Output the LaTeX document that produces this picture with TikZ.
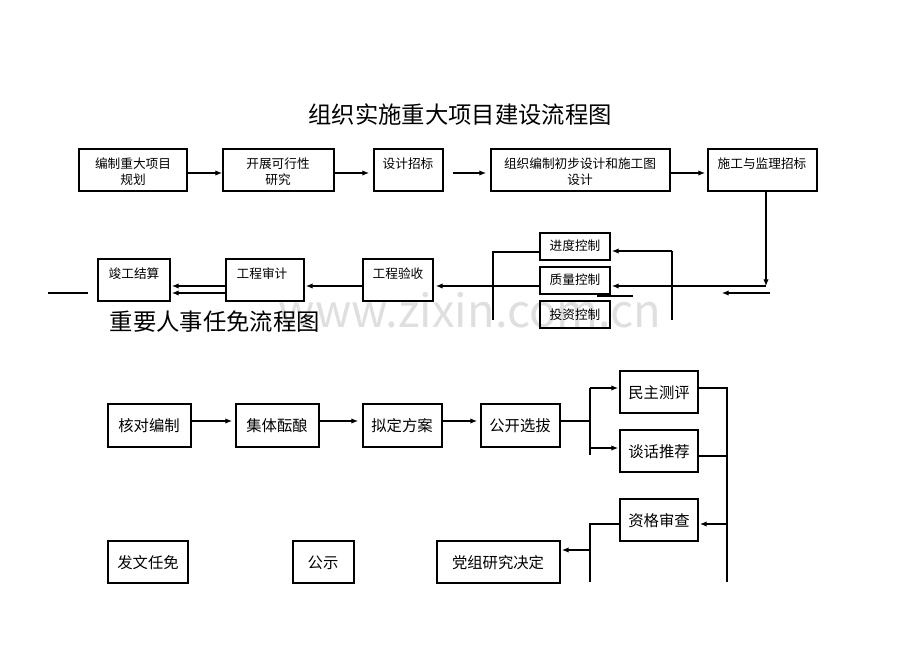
\documentclass[tikz,border=0pt]{standalone}
\usepackage{fontspec}
\setmainfont{Noto Sans CJK SC}
\usetikzlibrary{arrows.meta}
\begin{document}
\begin{tikzpicture}[x=0.75pt,y=-0.75pt,
  bx/.style={draw,line width=0.9pt,inner sep=0pt},
  ar/.style={line width=0.8pt,-{Latex[length=5pt,width=4pt]}},
  ln/.style={line width=0.8pt},
  t1/.style={font=\fontsize{9.5pt}{12pt}\selectfont,align=center},
  t2/.style={font=\fontsize{11.5pt}{14pt}\selectfont}]
\useasboundingbox (0,0) rectangle (920,651);
\node[gray!25,font=\fontsize{34pt}{36pt}\selectfont] (wm) at (470,310) {www.zixin.com.cn};
\node[font=\fontsize{17.5pt}{19pt}\selectfont] (title) at (460,115) {组织实施重大项目建设流程图};
% top row
\draw[bx] (79,149) rectangle (187,191); \node[t1,anchor=north] (b1) at (133,153) {编制重大项目\\规划};
\draw[bx] (223,149) rectangle (334,191); \node[t1,anchor=north] (b2) at (278,153) {开展可行性\\研究};
\draw[bx] (374,149) rectangle (443,191); \node[t1,anchor=north] (b3) at (408,153) {设计招标};
\draw[bx] (491,149) rectangle (670,191); \node[t1,anchor=north] (b4) at (580,153) {组织编制初步设计和施工图\\设计};
\draw[bx] (708,149) rectangle (817,191); \node[t1,anchor=north] (b5) at (762,153) {施工与监理招标};
\draw[ar] (187,173) -- (222,173);
\draw[ar] (334,173) -- (369,173);
\draw[ar] (453,173) -- (486,173);
\draw[ar] (670,173) -- (705,173);
\draw[ar] (766,191) -- (766,286);
% row 2
\draw[bx] (98,259) rectangle (170,301); \node[t1,anchor=north] (c1) at (134,263) {竣工结算};
\draw[bx] (226,259) rectangle (304,301); \node[t1,anchor=north] (c2) at (262,263) {工程审计};
\draw[bx] (363,259) rectangle (433,301); \node[t1,anchor=north] (c3) at (398,263) {工程验收};
\draw[bx] (540,233) rectangle (610,260); \node[t1] (k1) at (575,246) {进度控制};
\draw[bx] (540,267) rectangle (610,294); \node[t1] (k2) at (575,280) {质量控制};
\draw[bx] (540,301) rectangle (610,328); \node[t1] (k3) at (575,315) {投资控制};
\draw[ar] (766,286) -- (612,286);
\draw[ln] (672,251) -- (672,320);
\draw[ar] (672,251) -- (612,251);
\draw[ar] (770,293) -- (722,293);
\draw[ln] (540,252) -- (493,252) -- (493,320);
\draw[ln] (597,296) -- (633,296);
\draw[ar] (540,286) -- (436,286);
\draw[ar] (363,286) -- (306,286);
\draw[ar] (226,286) -- (172,286);
\draw[ar] (226,293) -- (172,293);
\draw[ln] (48,293) -- (88,293);
% section 2
\node[font=\fontsize{17.5pt}{20pt}\selectfont,anchor=west] (title2) at (105,322) {重要人事任免流程图};
\draw[bx] (108,404) rectangle (191,447); \node[t2] (d1) at (149,426) {核对编制};
\draw[bx] (236,404) rectangle (319,447); \node[t2] (d2) at (277,426) {集体酝酿};
\draw[bx] (363,404) rectangle (442,447); \node[t2] (d3) at (402,426) {拟定方案};
\draw[bx] (481,404) rectangle (560,447); \node[t2] (d4) at (520,426) {公开选拔};
\draw[bx] (620,371) rectangle (698,413); \node[t2] (e1) at (659,393) {民主测评};
\draw[bx] (620,430) rectangle (698,472); \node[t2] (e2) at (659,452) {谈话推荐};
\draw[bx] (620,499) rectangle (698,541); \node[t2] (e3) at (659,521) {资格审查};
\draw[bx] (108,541) rectangle (188,583); \node[t2] (f1) at (148,563) {发文任免};
\draw[bx] (293,541) rectangle (354,583); \node[t2] (f2) at (323,563) {公示};
\draw[bx] (437,541) rectangle (560,583); \node[t2] (f3) at (498,563) {党组研究决定};
\draw[ar] (191,421) -- (232,421);
\draw[ar] (319,421) -- (358,421);
\draw[ar] (442,421) -- (477,421);
\draw[ln] (560,421) -- (590,421);
\draw[ln] (590,455) -- (590,388);
\draw[ar] (590,388) -- (618,388);
\draw[ar] (590,448) -- (618,448);
\draw[ln] (698,388) -- (727,388) -- (727,582);
\draw[ln] (698,456) -- (727,456);
\draw[ar] (727,524) -- (700,524);
\draw[ln] (620,524) -- (590,524) -- (590,582);
\draw[ar] (590,550) -- (562,550);
\end{tikzpicture}
\end{document}
